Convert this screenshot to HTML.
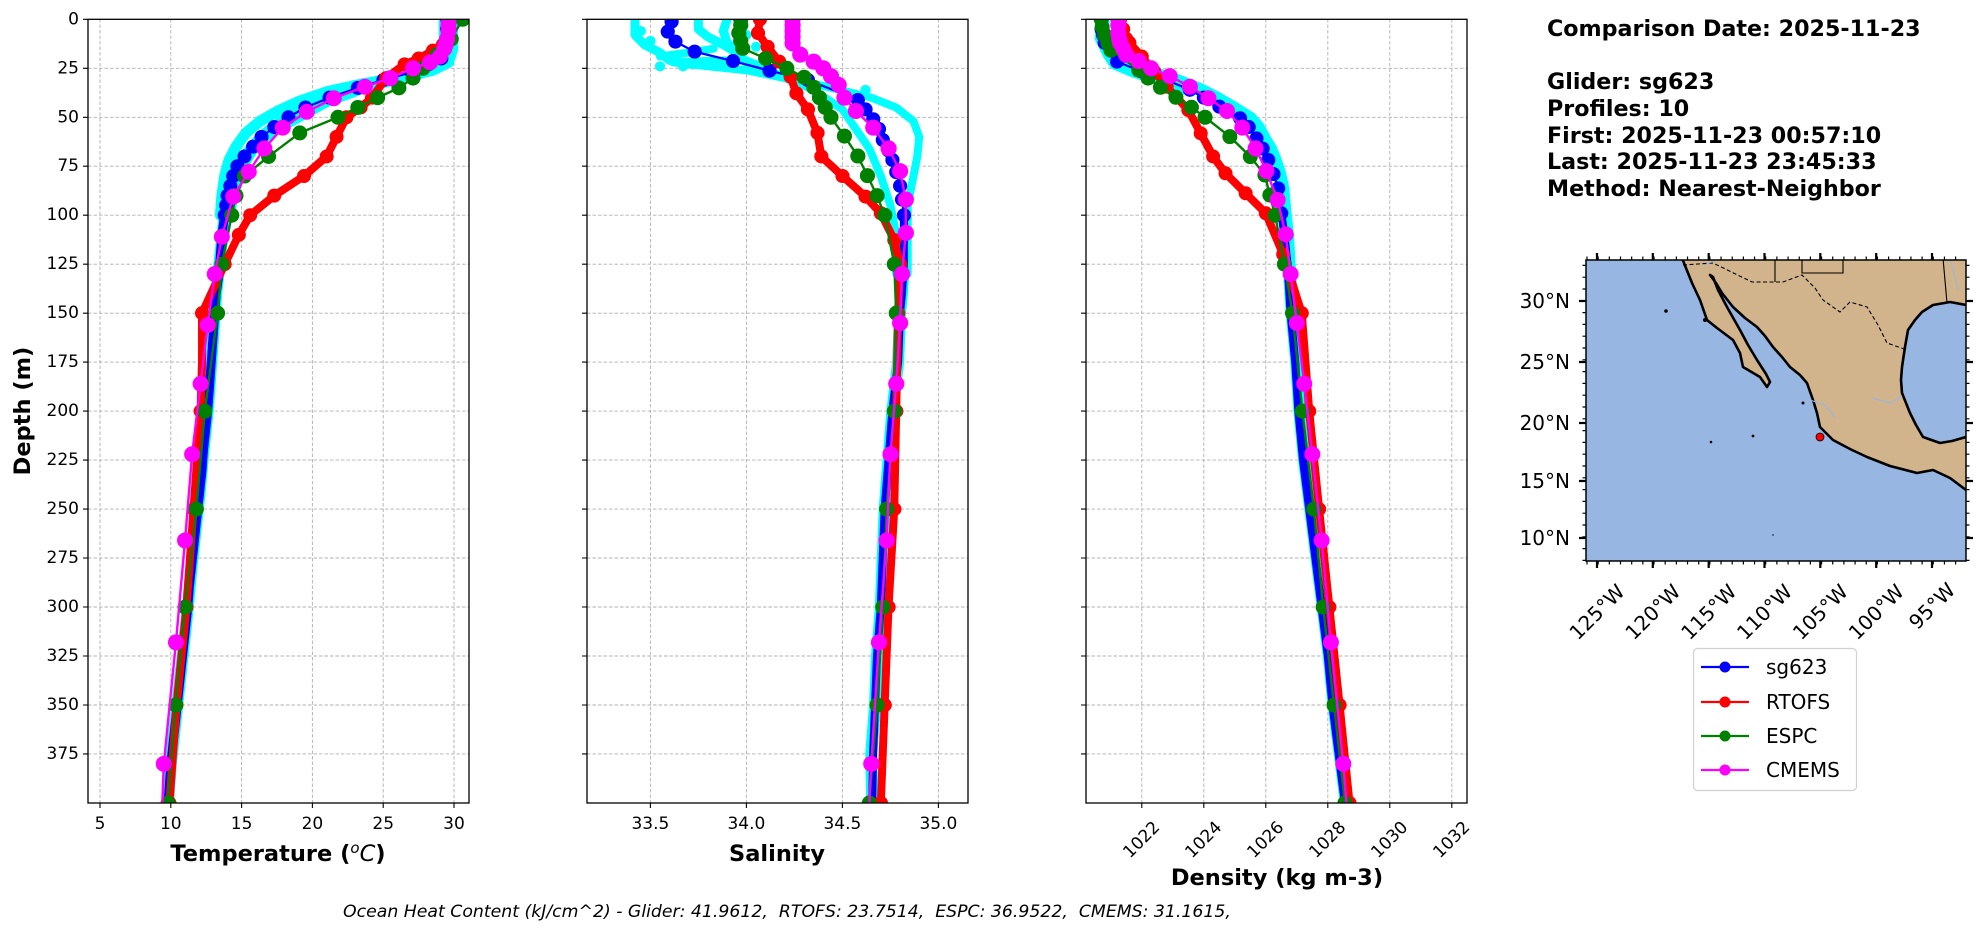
<!DOCTYPE html>
<html><head><meta charset="utf-8">
<style>
html,body{margin:0;padding:0;background:#fff;}
svg{display:block;}
text{font-family:"DejaVu Sans","Liberation Sans",sans-serif;fill:#000;white-space:pre;}
.g{stroke:#b0b0b0;stroke-width:0.9;stroke-dasharray:3.5,2;}
.ln{fill:none;vector-effect:non-scaling-stroke;stroke-linejoin:round;stroke-linecap:round;}
.mk{fill:none;vector-effect:non-scaling-stroke;stroke-linecap:round;}
.tl{font-size:17px;}
.al{font-size:22.5px;font-weight:bold;}
</style></head>
<body>
<svg width="1978" height="934" viewBox="0 0 1978 934" xmlns="http://www.w3.org/2000/svg">
<rect width="1978" height="934" fill="#fff"/>

<g class="g">
<path d="M88 68.3H469M88 117.3H469M88 166.2H469M88 215.2H469M88 264.2H469M88 313.2H469M88 362.1H469M88 411.1H469M88 460.1H469M88 509.1H469M88 558H469M88 607H469M88 656H469M88 705H469M88 753.9H469"/>
<path d="M587 68.3H968M587 117.3H968M587 166.2H968M587 215.2H968M587 264.2H968M587 313.2H968M587 362.1H968M587 411.1H968M587 460.1H968M587 509.1H968M587 558H968M587 607H968M587 656H968M587 705H968M587 753.9H968"/>
<path d="M1086 68.3H1467M1086 117.3H1467M1086 166.2H1467M1086 215.2H1467M1086 264.2H1467M1086 313.2H1467M1086 362.1H1467M1086 411.1H1467M1086 460.1H1467M1086 509.1H1467M1086 558H1467M1086 607H1467M1086 656H1467M1086 705H1467M1086 753.9H1467"/>
<path d="M100 19V803M170.8 19V803M241.6 19V803M312.4 19V803M383.2 19V803M454 19V803"/>
<path d="M650.4 19V803M746.4 19V803M842.4 19V803M938.4 19V803"/>
<path d="M1141.8 19V803M1203.8 19V803M1265.8 19V803M1327.8 19V803M1389.8 19V803M1451.8 19V803"/>
</g>

<!-- ===== Temperature panel ===== -->
<svg x="88" y="19.3" width="381" height="783.7" viewBox="4.15 0 26.9 400" preserveAspectRatio="none" overflow="hidden">
<g stroke="#00ffff">
<polyline class="ln" stroke-width="11" points="29.9,0 29.9,15 29.6,22 28.5,26 26,30 23.5,33 21,37 19,42 17.5,47 16.3,52 15.3,58 14.6,65 14.1,72 13.8,80 13.6,90 13.5,100"/>
<polyline class="ln" stroke-width="11" points="29.3,0 29.3,15 29.0,22 27.5,28 24,34 21,42 19.5,48 18.2,53 17,58 16,64 15.3,72 14.8,80 14.4,90 14.1,100"/>
<polyline class="ln" stroke-width="12" points="29.5,0 29.5,10 29.3,15 29.1,20 28.2,23 27,27 25,31 23.2,35 21.2,40 19.5,45 18.3,50 17.3,55 16.4,60 15.8,65 15.2,70 14.7,75 14.4,80 14.2,85 14.0,90 13.8,100 13.5,120 13.2,140 13.0,160 12.8,180 12.6,200 12.3,220 12.05,240 11.75,260 11.45,280 11.2,300 10.9,320 10.6,340 10.3,360 10.0,380 9.8,400"/>
</g>
<g stroke="#0000ff">
<polyline class="ln" stroke-width="2.2" points="29.5,0 29.5,5 29.5,10 29.3,15 29.1,20 28.2,23 27,27 25,31 23.2,35 21.2,40 19.5,45 18.3,50 17.3,55 16.4,60 15.8,65 15.2,70 14.7,75 14.4,80 14.2,85 14.0,90 13.9,95 13.8,100"/>
<polyline class="ln" stroke-width="9" points="13.8,100 13.6,110 13.5,120 13.4,130 13.2,140 13.1,150 13.0,160 12.9,170 12.8,180 12.7,190 12.6,200 12.45,210 12.3,220 12.2,230 12.05,240 11.9,250 11.75,260 11.6,270 11.45,280 11.3,290 11.2,300 11.05,310 10.9,320 10.75,330 10.6,340 10.45,350 10.3,360 10.15,370 10.0,380 9.9,390 9.8,400"/>
<path class="mk" stroke-width="14" d="M29.5,0h.001M29.5,5h.001M29.5,10h.001M29.3,15h.001M29.1,20h.001M28.2,23h.001M27,27h.001M25,31h.001M23.2,35h.001M21.2,40h.001M19.5,45h.001M18.3,50h.001M17.3,55h.001M16.4,60h.001M15.8,65h.001M15.2,70h.001M14.7,75h.001M14.4,80h.001M14.2,85h.001M14.0,90h.001M13.9,95h.001M13.8,100h.001"/>
</g>
<g stroke="#ff0000">
<polyline class="ln" stroke-width="8" points="29.7,0 29.6,5 29.5,10 29.2,13 28.5,16 27.5,20 26.5,23 25.2,30 24.2,40 23.4,45 22.4,50 21.7,60 21,70 19.4,80 17.3,90 15.6,100 14.8,110 13.8,125 12.2,150 12.2,175 12.1,200 11.6,250 11.1,300 10.4,350 9.9,400"/>
<path class="mk" stroke-width="14" d="M29.7,0h.001M29.6,5h.001M29.5,10h.001M29.2,13h.001M28.5,16h.001M27.5,20h.001M26.5,23h.001M25.2,30h.001M24.2,40h.001M23.4,45h.001M22.4,50h.001M21.7,60h.001M21,70h.001M19.4,80h.001M17.3,90h.001M15.6,100h.001M14.8,110h.001M13.8,125h.001M12.2,150h.001M12.1,200h.001M11.6,250h.001M11.1,300h.001M10.4,350h.001M9.9,400h.001"/>
</g>
<g stroke="#008000">
<polyline class="ln" stroke-width="2.4" points="30.6,0 29.8,10 28.8,18 27.8,25 27.1,30 26.1,35 24.6,40 23.2,45 21.8,50 19.1,58 16.9,70 15.2,80 14.6,90 14.3,100 13.6,125 13.3,150 12.4,200 11.8,250 11.0,300 10.35,350 9.8,400"/>
<path class="mk" stroke-width="15" d="M30.6,0h.001M29.8,10h.001M28.8,18h.001M27.8,25h.001M27.1,30h.001M26.1,35h.001M24.6,40h.001M23.2,45h.001M21.8,50h.001M19.1,58h.001M16.9,70h.001M15.2,80h.001M14.6,90h.001M14.3,100h.001M13.6,125h.001M13.3,150h.001M12.4,200h.001M11.8,250h.001M11.0,300h.001M10.35,350h.001M9.8,400h.001"/>
</g>
<g stroke="#ff00ff">
<polyline class="ln" stroke-width="2.4" points="29.6,0 29.6,5 29.5,10 29.3,15 29.0,19 28.3,22 27.1,25 25.5,30 23.7,34.4 21.5,40.3 19.6,47.2 17.9,55.3 16.6,65.9 15.5,77.8 14.4,90.5 13.6,111 13.1,130 12.6,156 12.1,186 11.5,222 11.0,266 10.36,318 9.5,380 9.4,400"/>
<path class="mk" stroke-width="16" d="M29.6,0h.001M29.6,3h.001M29.6,6h.001M29.5,10h.001M29.4,13h.001M29.3,15h.001M29.0,19h.001M28.3,22h.001M27.1,25h.001M25.5,30h.001M23.7,34.4h.001M21.5,40.3h.001M19.6,47.2h.001M17.9,55.3h.001M16.6,65.9h.001M15.5,77.8h.001M14.4,90.5h.001M13.6,111h.001M13.1,130h.001M12.6,156h.001M12.1,186h.001M11.5,222h.001M11.0,266h.001M10.36,318h.001M9.5,380h.001"/>
</g>
</svg>

<!-- ===== Salinity panel ===== -->
<svg x="587" y="19.3" width="381" height="783.7" viewBox="33.17 0 1.984 400" preserveAspectRatio="none" overflow="hidden">
<g stroke="#00ffff" fill="#00ffff">
<polygon class="ln" stroke-width="8" points="33.62,22 33.8,24 34.0,26 34.2,30 34.35,36 34.5,46 34.64,66 34.7,80 34.75,95 34.78,110 34.78,130 34.84,130 34.84,110 34.84,95 34.86,85 34.89,70 34.9,60 34.87,52 34.78,45 34.65,40 34.4,34 34.2,30 34.1,25 34.0,21 33.85,21"/>
<polyline class="ln" stroke-width="9" fill="none" points="33.42,0 33.42,8 33.47,13 33.55,17 33.6,21 33.72,23"/>
<polyline class="ln" stroke-width="9" fill="none" points="33.75,0 33.75,5 33.8,9 33.88,13 33.95,17 34.0,22 34.1,26"/>
<polyline class="ln" stroke-width="9" fill="none" points="33.9,0 33.88,6 33.9,12 33.95,16"/>
<polyline class="ln" stroke-width="8" fill="none" points="33.55,19 33.7,17 33.83,15"/>
<path class="mk" stroke-width="10" d="M33.55,24h.001M33.67,24h.001M33.72,23h.001M33.45,6h.001M33.5,11h.001M34.0,8h.001M34.05,14h.001M33.98,3h.001M34.5,38h.001M34.62,36h.001"/>
<polyline class="ln" stroke-width="12" fill="none" points="34.8,110 34.82,125 34.81,140 34.8,150 34.79,175 34.76,200 34.74,225 34.72,250 34.71,275 34.70,300 34.68,325 34.67,350 34.65,375 34.655,400"/>
</g>
<g stroke="#0000ff">
<polyline class="ln" stroke-width="2.2" points="33.61,0 33.61,1.2 33.59,6.3 33.63,11.4 33.73,16.5 33.93,21.3 34.12,26.2 34.32,31 34.45,36 34.58,41.2 34.62,46 34.66,51 34.69,56 34.71,61.6 34.74,67 34.76,71.8 34.78,78 34.8,85 34.81,92 34.82,100"/>
<polyline class="ln" stroke-width="8" points="34.82,100 34.82,110 34.82,125 34.81,140 34.8,150 34.79,175 34.76,200 34.74,225 34.72,250 34.71,275 34.70,300 34.68,325 34.67,350 34.66,375 34.655,400"/>
<path class="mk" stroke-width="14" d="M33.61,0h.001M33.61,1.2h.001M33.59,6.3h.001M33.63,11.4h.001M33.73,16.5h.001M33.93,21.3h.001M34.12,26.2h.001M34.32,31h.001M34.58,41.2h.001M34.62,46h.001M34.66,51h.001M34.69,56h.001M34.71,61.6h.001M34.74,67h.001M34.76,71.8h.001M34.78,78h.001M34.8,85h.001M34.81,92h.001M34.82,100h.001"/>
</g>
<g stroke="#ff0000">
<polyline class="ln" stroke-width="8" points="34.07,0 34.06,7 34.11,14 34.17,21.6 34.23,29.3 34.26,37.8 34.32,46 34.37,58 34.39,70 34.5,80 34.62,90.5 34.7,99 34.77,112.7 34.8,125 34.79,150 34.78,200 34.77,250 34.74,300 34.72,350 34.70,400"/>
<path class="mk" stroke-width="14" d="M34.07,0h.001M34.06,7h.001M34.11,14h.001M34.17,21.6h.001M34.23,29.3h.001M34.26,37.8h.001M34.32,46h.001M34.37,58h.001M34.39,70h.001M34.5,80h.001M34.62,90.5h.001M34.7,99h.001M34.77,112.7h.001M34.8,125h.001M34.79,150h.001M34.78,200h.001M34.77,250h.001M34.74,300h.001M34.72,350h.001M34.70,400h.001"/>
</g>
<g stroke="#008000">
<polyline class="ln" stroke-width="2.4" points="33.97,0 33.96,7 33.98,14.8 34.1,20 34.21,25 34.3,29.6 34.35,34.7 34.38,40 34.41,45 34.44,50 34.51,59.6 34.58,69.8 34.63,79.8 34.68,90 34.72,100 34.77,125 34.78,150 34.77,200 34.73,250 34.71,300 34.68,350 34.64,400"/>
<path class="mk" stroke-width="15" d="M33.97,0h.001M33.97,3h.001M33.96,7h.001M33.97,11h.001M33.98,14.8h.001M34.1,20h.001M34.21,25h.001M34.3,29.6h.001M34.35,34.7h.001M34.38,40h.001M34.41,45h.001M34.44,50h.001M34.51,59.6h.001M34.58,69.8h.001M34.63,79.8h.001M34.68,90h.001M34.72,100h.001M34.77,125h.001M34.78,150h.001M34.77,200h.001M34.73,250h.001M34.71,300h.001M34.68,350h.001M34.64,400h.001"/>
</g>
<g stroke="#ff00ff">
<polyline class="ln" stroke-width="2.4" points="34.24,0 34.24,6 34.24,12.3 34.28,18 34.35,21.6 34.4,25 34.44,29 34.48,33.5 34.51,40 34.57,46.8 34.66,55.3 34.74,65.9 34.8,77.5 34.83,92 34.83,109 34.81,130 34.8,155 34.78,186 34.75,222 34.73,266 34.69,318 34.65,380 34.64,400"/>
<path class="mk" stroke-width="16" d="M34.24,0h.001M34.24,3h.001M34.24,6h.001M34.24,9h.001M34.24,12.3h.001M34.28,18h.001M34.35,21.6h.001M34.4,25h.001M34.44,29h.001M34.48,33.5h.001M34.51,40h.001M34.57,46.8h.001M34.66,55.3h.001M34.74,65.9h.001M34.8,77.5h.001M34.83,92h.001M34.83,109h.001M34.81,130h.001M34.8,155h.001M34.78,186h.001M34.75,222h.001M34.73,266h.001M34.69,318h.001M34.65,380h.001"/>
</g>
</svg>

<!-- ===== Density panel ===== -->
<svg x="1086" y="19.3" width="381" height="783.7" viewBox="1020.2 0 12.29 400" preserveAspectRatio="none" overflow="hidden">
<g stroke="#00ffff">
<polyline class="ln" stroke-width="13" points="1020.75,0 1020.75,5 1020.85,10 1021.05,16 1021.3,21.6 1022.2,26.7 1023.1,31 1023.9,36 1024.4,40 1024.9,44.6 1025.5,50.5 1025.75,55 1025.95,60.8 1026.15,66 1026.3,71.8 1026.45,79 1026.55,86.3 1026.62,99 1026.7,110 1026.75,125 1026.85,150 1027.0,175 1027.1,200 1027.25,225 1027.45,250 1027.65,275 1027.85,300 1028.05,325 1028.2,350 1028.4,375 1028.6,400"/>
<polyline class="ln" stroke-width="10" points="1020.65,0 1020.65,10 1020.9,18 1021.1,23 1021.7,27 1022.5,31 1023.3,36"/>
</g>
<g stroke="#0000ff">
<polyline class="ln" stroke-width="2.2" points="1020.7,0 1020.7,5 1020.8,10 1021.0,16 1021.2,21.6 1022.0,26.7 1022.8,31 1023.55,36 1024.0,40 1024.5,44.6 1025.17,50.5 1025.45,55 1025.7,60.8 1025.9,66 1026.08,71.8 1026.25,79 1026.4,86.3 1026.5,99"/>
<polyline class="ln" stroke-width="8" points="1026.5,99 1026.6,110 1026.7,125 1026.8,150 1026.95,175 1027.05,200 1027.2,225 1027.4,250 1027.6,275 1027.8,300 1028.0,325 1028.15,350 1028.35,375 1028.55,400"/>
<path class="mk" stroke-width="14" d="M1020.7,0h.001M1020.7,5h.001M1020.75,8h.001M1020.8,12h.001M1021.0,16h.001M1021.2,21.6h.001M1022.0,26.7h.001M1022.8,31h.001M1023.55,36h.001M1024.0,40h.001M1024.5,44.6h.001M1025.17,50.5h.001M1025.45,55h.001M1025.7,60.8h.001M1025.9,66h.001M1026.08,71.8h.001M1026.25,79h.001M1026.4,86.3h.001M1026.5,99h.001"/>
</g>
<g stroke="#ff0000">
<polyline class="ln" stroke-width="8" points="1021.3,0 1021.4,5 1021.5,10 1021.6,12 1022.0,19 1022.4,26.7 1022.8,34.4 1023.5,46.3 1023.9,58.2 1024.3,70 1024.7,78.6 1025.35,88.8 1026.0,99 1026.56,120 1027.16,150 1027.4,200 1027.72,250 1028.05,300 1028.38,350 1028.7,400"/>
<path class="mk" stroke-width="14" d="M1021.3,0h.001M1021.4,5h.001M1021.5,10h.001M1021.6,12h.001M1022.0,19h.001M1022.4,26.7h.001M1022.8,34.4h.001M1023.5,46.3h.001M1023.9,58.2h.001M1024.3,70h.001M1024.7,78.6h.001M1025.35,88.8h.001M1026.0,99h.001M1026.56,120h.001M1027.16,150h.001M1027.4,200h.001M1027.72,250h.001M1028.05,300h.001M1028.38,350h.001M1028.7,400h.001"/>
</g>
<g stroke="#008000">
<polyline class="ln" stroke-width="2.4" points="1020.69,0 1020.8,8 1021.0,15.7 1021.9,25.9 1022.2,30 1022.6,34.7 1023.1,39.8 1023.6,44.9 1024.04,50 1024.84,59.9 1025.5,70.1 1025.97,79.5 1026.13,89.7 1026.3,100 1026.6,125 1026.86,150 1027.18,200 1027.55,250 1027.85,300 1028.2,350 1028.55,400"/>
<path class="mk" stroke-width="15" d="M1020.69,0h.001M1020.72,4h.001M1020.8,8h.001M1020.9,12h.001M1021.0,15.7h.001M1021.9,25.9h.001M1022.2,30h.001M1022.6,34.7h.001M1023.1,39.8h.001M1023.6,44.9h.001M1024.04,50h.001M1024.84,59.9h.001M1025.5,70.1h.001M1025.97,79.5h.001M1026.13,89.7h.001M1026.3,100h.001M1026.6,125h.001M1026.86,150h.001M1027.18,200h.001M1027.55,250h.001M1027.85,300h.001M1028.2,350h.001M1028.55,400h.001"/>
</g>
<g stroke="#ff00ff">
<polyline class="ln" stroke-width="2.4" points="1021.24,0 1021.24,3 1021.24,7 1021.3,12 1021.5,18.2 1021.9,21.3 1022.3,25 1022.9,29 1023.55,34.4 1024.15,40.3 1024.75,46.8 1025.24,55.3 1025.67,65.9 1026.02,77.4 1026.38,92.2 1026.64,109.7 1026.8,130 1027.0,155 1027.24,186 1027.5,222 1027.8,266 1028.1,318 1028.5,380 1028.6,400"/>
<path class="mk" stroke-width="16" d="M1021.24,0h.001M1021.24,3h.001M1021.24,7h.001M1021.27,10h.001M1021.3,12h.001M1021.4,15h.001M1021.5,18.2h.001M1021.9,21.3h.001M1022.3,25h.001M1022.9,29h.001M1023.55,34.4h.001M1024.15,40.3h.001M1024.75,46.8h.001M1025.24,55.3h.001M1025.67,65.9h.001M1026.02,77.4h.001M1026.38,92.2h.001M1026.64,109.7h.001M1026.8,130h.001M1027.0,155h.001M1027.24,186h.001M1027.5,222h.001M1027.8,266h.001M1028.1,318h.001M1028.5,380h.001"/>
</g>
</svg>

<g fill="none" stroke="#000" stroke-width="1.3">
<rect x="88" y="19.3" width="381" height="783.7"/>
<rect x="587" y="19.3" width="381" height="783.7"/>
<rect x="1086" y="19.3" width="381" height="783.7"/>
</g>
<g stroke="#000" stroke-width="1.1">
<path d="M83 19.3H88M83 68.3H88M83 117.3H88M83 166.2H88M83 215.2H88M83 264.2H88M83 313.2H88M83 362.1H88M83 411.1H88M83 460.1H88M83 509.1H88M83 558H88M83 607H88M83 656H88M83 705H88M83 753.9H88"/>
<path d="M582 19.3H587M582 68.3H587M582 117.3H587M582 166.2H587M582 215.2H587M582 264.2H587M582 313.2H587M582 362.1H587M582 411.1H587M582 460.1H587M582 509.1H587M582 558H587M582 607H587M582 656H587M582 705H587M582 753.9H587"/>
<path d="M1081 19.3H1086M1081 68.3H1086M1081 117.3H1086M1081 166.2H1086M1081 215.2H1086M1081 264.2H1086M1081 313.2H1086M1081 362.1H1086M1081 411.1H1086M1081 460.1H1086M1081 509.1H1086M1081 558H1086M1081 607H1086M1081 656H1086M1081 705H1086M1081 753.9H1086"/>
<path d="M100 803V808M170.8 803V808M241.6 803V808M312.4 803V808M383.2 803V808M454 803V808"/>
<path d="M650.4 803V808M746.4 803V808M842.4 803V808M938.4 803V808"/>
<path d="M1141.8 803V808M1203.8 803V808M1265.8 803V808M1327.8 803V808M1389.8 803V808M1451.8 803V808"/>
</g>

<g class="tl" text-anchor="end" dominant-baseline="central">
<text x="79" y="19.3">0</text><text x="79" y="68.3">25</text><text x="79" y="117.3">50</text><text x="79" y="166.2">75</text>
<text x="79" y="215.2">100</text><text x="79" y="264.2">125</text><text x="79" y="313.2">150</text><text x="79" y="362.1">175</text>
<text x="79" y="411.1">200</text><text x="79" y="460.1">225</text><text x="79" y="509.1">250</text><text x="79" y="558">275</text>
<text x="79" y="607">300</text><text x="79" y="656">325</text><text x="79" y="705">350</text><text x="79" y="753.9">375</text>
</g>
<g class="tl" text-anchor="middle">
<text x="100" y="829">5</text><text x="170.8" y="829">10</text><text x="241.6" y="829">15</text><text x="312.4" y="829">20</text><text x="383.2" y="829">25</text><text x="454" y="829">30</text>
<text x="650.4" y="829">33.5</text><text x="746.4" y="829">34.0</text><text x="842.4" y="829">34.5</text><text x="938.4" y="829">35.0</text>
</g>
<g class="tl" text-anchor="middle" dominant-baseline="central">
<text transform="translate(1141.8,840) rotate(-45)">1022</text>
<text transform="translate(1203.8,840) rotate(-45)">1024</text>
<text transform="translate(1265.8,840) rotate(-45)">1026</text>
<text transform="translate(1327.8,840) rotate(-45)">1028</text>
<text transform="translate(1389.8,840) rotate(-45)">1030</text>
<text transform="translate(1451.8,840) rotate(-45)">1032</text>
</g>
<g class="al" text-anchor="middle">
<text x="278" y="861">Temperature (<tspan font-style="italic" font-weight="normal" font-size="15" dy="-8">o</tspan><tspan font-style="italic" font-weight="normal" dy="8">C</tspan>)</text>
<text x="777" y="861">Salinity</text>
<text x="1277" y="885">Density (kg m-3)</text>
<text transform="translate(30,411) rotate(-90)">Depth (m)</text>
</g>
<text x="343" y="917" font-size="17.3" font-style="italic">Ocean Heat Content (kJ/cm^2) - Glider: 41.9612,  RTOFS: 23.7514,  ESPC: 36.9522,  CMEMS: 31.1615,</text>

<g font-size="22.2" font-weight="bold">
<text x="1547" y="36">Comparison Date: 2025-11-23</text>
<text x="1547" y="89">Glider: sg623</text>
<text x="1547" y="116">Profiles: 10</text>
<text x="1547" y="143">First: 2025-11-23 00:57:10</text>
<text x="1547" y="169">Last: 2025-11-23 23:45:33</text>
<text x="1547" y="196">Method: Nearest-Neighbor</text>
</g>

<!-- ===== map ===== -->
<svg x="1586" y="260" width="380" height="301" viewBox="1586 260 380 301" overflow="hidden">
<rect x="1586" y="260" width="380" height="301" fill="#97b6e1"/>
<path fill="#d2b48c" stroke="#000" stroke-width="2.6" stroke-linejoin="round" d="M1682,258 L1692,283 L1700,300 L1707,320 L1717,328 L1733,340 L1740,353 L1743,367 L1760,377 L1767,387 L1770,382 L1766,374 L1757,360 L1748,345 L1740,330 L1727,307 L1718,290 L1713,277 L1710,275 L1716,283 L1722,293 L1733,307 L1745,318 L1757,327 L1765,336 L1773,347 L1782,357 L1790,367 L1800,375 L1807,383 L1813,400 L1817,413 L1820,427 L1833,440 L1850,449 L1867,457 L1890,466 L1917,473 L1933,470 L1950,478 L1966,490 L1970,490 L1970,437 L1966,437 L1952,441 L1940,443 L1923,437 L1916,425 L1910,413 L1902,393 L1901,380 L1902,367 L1905,347 L1908,330 L1915,320 L1922,312 L1933,305 L1950,302 L1966,305 L1970,305 L1970,256 Z"/>
<path fill="none" stroke="#000" stroke-width="1.1" stroke-dasharray="4,2.5" d="M1683,265 L1713,263 L1752,282 L1783,282 L1802,275 L1815,288 L1823,300 L1840,312 L1850,302 L1867,307 L1878,325 L1887,343 L1907,350"/>
<path fill="none" stroke="#000" stroke-width="1.1" d="M1775,258 L1775,282 M1802,258 L1802,273 L1843,273 L1843,258 M1943,258 L1947,303"/>
<path fill="none" stroke="#97b6e1" stroke-width="1.1" d="M1705,265 L1720,258 M1810,400 L1825,405 L1835,418 M1872,398 L1890,403 L1902,396 M1950,258 L1958,290"/>
<circle cx="1666" cy="311" r="1.8" fill="#000"/><circle cx="1705" cy="320" r="2" fill="#000"/>
<circle cx="1753" cy="436" r="1.4" fill="#000"/><circle cx="1711" cy="442" r="1.3" fill="#000"/><circle cx="1773" cy="535" r="0.9" fill="#333"/>
<circle cx="1803" cy="403" r="1.5" fill="#000"/>
<circle cx="1820" cy="437" r="4" fill="#ff0000" stroke="#000" stroke-width="0.8"/>
</svg>
<rect x="1586" y="260" width="380" height="301" fill="none" stroke="#000" stroke-width="1.5"/>
<g stroke="#000" stroke-width="3">
<path d="M1586.4 563H1966" stroke-dasharray="1.2 9.97"/>
<path d="M1586.4 258H1966" stroke-dasharray="1.2 9.97"/>
<path d="M1584 561V260" stroke-dasharray="1.2 10.6"/>
<path d="M1968 561V260" stroke-dasharray="1.2 10.6"/>
</g>
<g stroke="#000" stroke-width="2.2">
<path d="M1597 561V568M1652.8 561V568M1708.7 561V568M1764.5 561V568M1820.3 561V568M1876.2 561V568M1932 561V568"/>
<path d="M1597 260V253M1652.8 260V253M1708.7 260V253M1764.5 260V253M1820.3 260V253M1876.2 260V253M1932 260V253"/>
<path d="M1586 301H1579M1586 362H1579M1586 423H1579M1586 481H1579M1586 538H1579"/>
<path d="M1966 301H1973M1966 362H1973M1966 423H1973M1966 481H1973M1966 538H1973"/>
</g>
<g font-size="20" text-anchor="end" dominant-baseline="central">
<text x="1570" y="301">30°N</text><text x="1570" y="362">25°N</text><text x="1570" y="423">20°N</text><text x="1570" y="481">15°N</text><text x="1570" y="538">10°N</text>
</g>
<g font-size="20" text-anchor="middle" dominant-baseline="central">
<text transform="translate(1597,612) rotate(-45)">125°W</text>
<text transform="translate(1652.8,612) rotate(-45)">120°W</text>
<text transform="translate(1708.7,612) rotate(-45)">115°W</text>
<text transform="translate(1764.5,612) rotate(-45)">110°W</text>
<text transform="translate(1820.3,612) rotate(-45)">105°W</text>
<text transform="translate(1876.2,612) rotate(-45)">100°W</text>
<text transform="translate(1932,606) rotate(-45)">95°W</text>
</g>

<rect x="1693.5" y="648.5" width="163" height="142" rx="4" fill="#fff" stroke="#d0d0d0" stroke-width="1.2"/>
<g stroke-width="2.2">
<line x1="1701" y1="667" x2="1749" y2="667" stroke="#0000ff"/><circle cx="1725" cy="667" r="5.5" fill="#0000ff"/>
<line x1="1701" y1="702" x2="1749" y2="702" stroke="#ff0000"/><circle cx="1725" cy="702" r="5.5" fill="#ff0000"/>
<line x1="1701" y1="736" x2="1749" y2="736" stroke="#008000"/><circle cx="1725" cy="736" r="5.5" fill="#008000"/>
<line x1="1701" y1="770" x2="1749" y2="770" stroke="#ff00ff"/><circle cx="1725" cy="770" r="5.5" fill="#ff00ff"/>
</g>
<g font-size="20" dominant-baseline="central">
<text x="1766" y="667">sg623</text><text x="1766" y="702">RTOFS</text><text x="1766" y="736">ESPC</text><text x="1766" y="770">CMEMS</text>
</g>
</svg>
</body></html>
